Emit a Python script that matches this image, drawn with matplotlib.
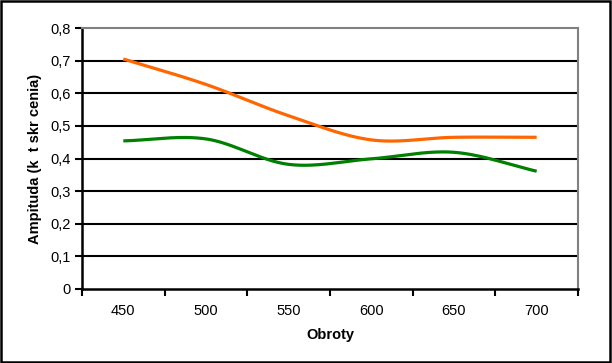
import numpy as np
import matplotlib
matplotlib.use("Agg")
import matplotlib.pyplot as plt

categories = ["450", "500", "550", "600", "650", "700"]
series_orange = [0.705, 0.627, 0.531, 0.457, 0.465, 0.465]
series_green = [0.454, 0.460, 0.382, 0.399, 0.419, 0.361]
yticks = [0, 0.1, 0.2, 0.3, 0.4, 0.5, 0.6, 0.7, 0.8]
ytick_labels = ["0", "0,1", "0,2", "0,3", "0,4", "0,5", "0,6", "0,7", "0,8"]

plt.rcParams['font.family'] = ['Liberation Sans', 'DejaVu Sans']


def smooth(xs, ys, n=30):
    # Catmull-Rom style smoothing (like Excel's smoothed line)
    xs = np.asarray(xs, float)
    ys = np.asarray(ys, float)
    px = np.concatenate([[2 * xs[0] - xs[1]], xs, [2 * xs[-1] - xs[-2]]])
    py = np.concatenate([[2 * ys[0] - ys[1]], ys, [2 * ys[-1] - ys[-2]]])
    outx, outy = [], []
    for i in range(1, len(px) - 2):
        t = np.linspace(0, 1, n, endpoint=False)
        for arr, out in ((px, outx), (py, outy)):
            p0, p1, p2, p3 = arr[i - 1], arr[i], arr[i + 1], arr[i + 2]
            out.extend(0.5 * ((2 * p1) + (-p0 + p2) * t
                              + (2 * p0 - 5 * p1 + 4 * p2 - p3) * t ** 2
                              + (-p0 + 3 * p1 - 3 * p2 + p3) * t ** 3))
    outx.append(xs[-1])
    outy.append(ys[-1])
    return np.array(outx), np.array(outy)


fig = plt.figure(figsize=(6.12, 3.63), dpi=100)
ax = fig.add_axes([82 / 612, 1 - 289 / 363, (578 - 82) / 612, (289 - 28) / 363])

x = np.arange(len(categories))
for ys, c in ((series_orange, "#FF6600"), (series_green, "#008000")):
    sx, sy = smooth(x, ys)
    ax.plot(sx, sy, color=c, lw=2.3, solid_capstyle='butt', zorder=3)

ax.set_xlim(-0.5, len(categories) - 0.5)
ax.set_ylim(0, 0.8)
ax.set_yticks(yticks)
ax.set_yticklabels(ytick_labels)
ax.set_xticks(x)
ax.set_xticklabels(categories)
ax.set_xticks(np.arange(-0.5, len(categories)), minor=True)
ax.tick_params(axis='x', which='major', length=0, pad=11, labelsize=10.5)
ax.tick_params(axis='x', which='minor', length=5, width=1.5, direction='out')
ax.tick_params(axis='y', length=5, width=1.5, direction='out', labelsize=10.5, pad=3)

for yv in yticks[1:-1]:
    ax.axhline(yv, color='black', lw=1.5, zorder=1)

ax.spines['left'].set_linewidth(1.8)
ax.spines['bottom'].set_linewidth(1.8)
ax.spines['top'].set_color('#808080')
ax.spines['top'].set_linewidth(1.5)
ax.spines['right'].set_color('#808080')
ax.spines['right'].set_linewidth(1.5)

ax.set_xlabel("Obroty", fontsize=10.5, fontweight='bold', labelpad=7)
ax.set_ylabel("Ampituda (k  t skr cenia)", fontsize=10.5, fontweight='bold', labelpad=6)

fig.patches.append(plt.Rectangle((0.0015, 0.0025), 0.996, 0.994, transform=fig.transFigure,
                                 fill=False, edgecolor='black', lw=1.8))

fig.savefig("out.png", dpi=100)
